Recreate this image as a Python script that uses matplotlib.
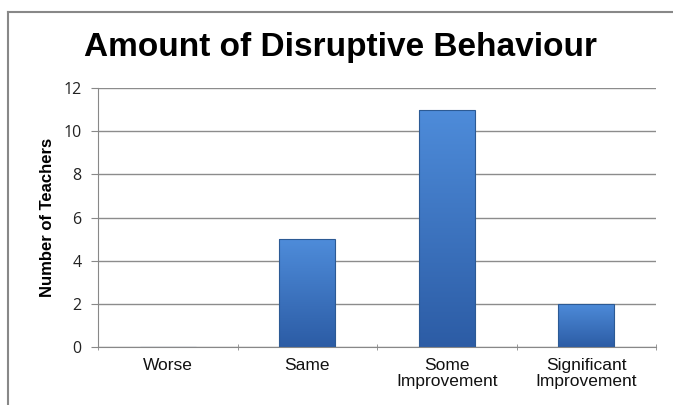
import numpy as np
import matplotlib.pyplot as plt
from matplotlib.lines import Line2D

# chart data
categories = ['Worse', 'Same', 'Some\nImprovement', 'Significant\nImprovement']
teachers = [0, 5, 11, 2]
y_ticks = [0, 2, 4, 6, 8, 10, 12]

fig = plt.figure(figsize=(6.73, 4.05), dpi=100)
ax = fig.add_axes([98 / 673, 1 - 347 / 405, 558 / 673, 259 / 405])

x = np.arange(len(categories))
bars = ax.bar(x, teachers, width=0.4, color='none', edgecolor='#2c5a94', linewidth=0.8, zorder=3)

# vertical gradient fill for each bar
grad = np.linspace(0, 1, 256).reshape(-1, 1)
top = np.array([78, 140, 218]) / 255
bottom = np.array([44, 92, 165]) / 255
img = bottom + (top - bottom) * grad
img = img.reshape(256, 1, 3)
for b in bars:
    if b.get_height() <= 0:
        continue
    x0, w, h = b.get_x(), b.get_width(), b.get_height()
    im = ax.imshow(img, extent=[x0, x0 + w, 0, h], origin='lower', aspect='auto', zorder=2)
    im.set_clip_path(b)

ax.set_xlim(-0.5, len(categories) - 0.5)
ax.set_ylim(0, 12)
ax.set_yticks(y_ticks)
ax.set_yticklabels([str(v) for v in y_ticks], fontsize=11.5, color='#222222', family='Open Sans')
ax.set_xticks(x)
ax.set_xticklabels(categories, fontsize=12.5, family='Liberation Sans', linespacing=1.1, color='#111111')
ax.tick_params(axis='x', length=0, pad=8)
ax.set_xticks(np.arange(-0.5, len(categories)), minor=True)
ax.tick_params(axis='x', which='minor', length=5, direction='inout', color='#888888')
ax.tick_params(axis='y', length=5, color='#888888', pad=7)

ax.grid(axis='y', color='#8c8c8c', linewidth=1.0, zorder=0)
ax.set_axisbelow(True)
for s in ['top', 'right']:
    ax.spines[s].set_visible(False)
ax.spines['left'].set_color('#888888')
ax.spines['bottom'].set_color('#888888')

ax.set_ylabel('Number of Teachers', fontsize=12, fontweight='bold', family='Liberation Sans', labelpad=6)
fig.text(341 / 673, 1 - 56 / 405, 'Amount of Disruptive Behaviour', fontsize=24, fontweight='bold',
         family='Liberation Sans', ha='center', va='baseline')

# outer chart frame (only left and top edges visible)
fig.add_artist(Line2D([8 / 673, 8 / 673], [0, 1 - 12 / 405], color='#888888', linewidth=1.5))
fig.add_artist(Line2D([8 / 673, 1], [1 - 12 / 405, 1 - 12 / 405], color='#888888', linewidth=1.5))

fig.savefig('out.png', dpi=100)
